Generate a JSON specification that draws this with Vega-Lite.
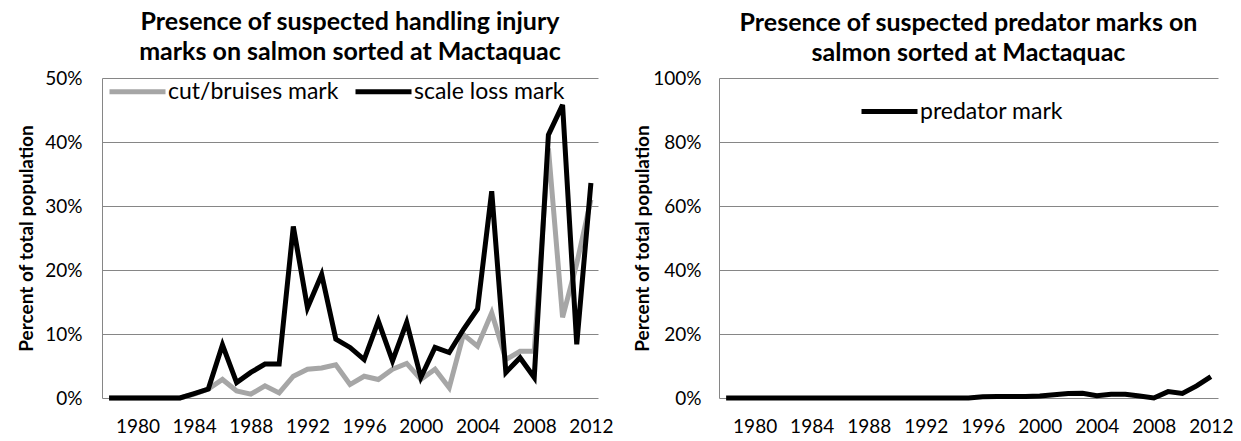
{
  "$schema": "https://vega.github.io/schema/vega-lite/v6.json",
  "background": "white",
  "padding": {"left": 17, "top": 10, "right": 5, "bottom": 5},
  "config": {
    "font": "Lato",
    "view": {"stroke": null},
    "axis": {"labelFont": "Lato", "labelFontSize": 19, "labelColor": "#000000", "ticks": false, "titleFont": "Lato", "titleFontSize": 19, "titleFontWeight": "bold", "titleColor": "#000000"},
    "legend": {"labelFont": "Lato", "labelFontSize": 23, "labelColor": "#000000", "labelLimit": 400, "symbolType": "stroke", "symbolStrokeWidth": 5, "symbolSize": 3136, "direction": "horizontal", "orient": "none", "title": null, "columnPadding": 6, "labelOffset": 0},
    "title": {"font": "Lato", "fontSize": 25, "fontWeight": "bold", "color": "#000000", "anchor": "middle", "lineHeight": 30, "offset": 3}
  },
  "datasets": {
    "handling": [
      {"year": 1978, "series": "cut/bruises mark", "value": 0},
      {"year": 1979, "series": "cut/bruises mark", "value": 0},
      {"year": 1980, "series": "cut/bruises mark", "value": 0},
      {"year": 1981, "series": "cut/bruises mark", "value": 0},
      {"year": 1982, "series": "cut/bruises mark", "value": 0},
      {"year": 1983, "series": "cut/bruises mark", "value": 0},
      {"year": 1984, "series": "cut/bruises mark", "value": 0.006},
      {"year": 1985, "series": "cut/bruises mark", "value": 0.014},
      {"year": 1986, "series": "cut/bruises mark", "value": 0.029},
      {"year": 1987, "series": "cut/bruises mark", "value": 0.011},
      {"year": 1988, "series": "cut/bruises mark", "value": 0.006},
      {"year": 1989, "series": "cut/bruises mark", "value": 0.019},
      {"year": 1990, "series": "cut/bruises mark", "value": 0.008},
      {"year": 1991, "series": "cut/bruises mark", "value": 0.034},
      {"year": 1992, "series": "cut/bruises mark", "value": 0.045},
      {"year": 1993, "series": "cut/bruises mark", "value": 0.047},
      {"year": 1994, "series": "cut/bruises mark", "value": 0.052},
      {"year": 1995, "series": "cut/bruises mark", "value": 0.021},
      {"year": 1996, "series": "cut/bruises mark", "value": 0.034},
      {"year": 1997, "series": "cut/bruises mark", "value": 0.029},
      {"year": 1998, "series": "cut/bruises mark", "value": 0.045},
      {"year": 1999, "series": "cut/bruises mark", "value": 0.054},
      {"year": 2000, "series": "cut/bruises mark", "value": 0.029},
      {"year": 2001, "series": "cut/bruises mark", "value": 0.045},
      {"year": 2002, "series": "cut/bruises mark", "value": 0.016},
      {"year": 2003, "series": "cut/bruises mark", "value": 0.099},
      {"year": 2004, "series": "cut/bruises mark", "value": 0.081},
      {"year": 2005, "series": "cut/bruises mark", "value": 0.133},
      {"year": 2006, "series": "cut/bruises mark", "value": 0.06},
      {"year": 2007, "series": "cut/bruises mark", "value": 0.073},
      {"year": 2008, "series": "cut/bruises mark", "value": 0.073},
      {"year": 2009, "series": "cut/bruises mark", "value": 0.39},
      {"year": 2010, "series": "cut/bruises mark", "value": 0.126},
      {"year": 2011, "series": "cut/bruises mark", "value": 0.21},
      {"year": 2012, "series": "cut/bruises mark", "value": 0.31},
      {"year": 1978, "series": "scale loss mark", "value": 0},
      {"year": 1979, "series": "scale loss mark", "value": 0},
      {"year": 1980, "series": "scale loss mark", "value": 0},
      {"year": 1981, "series": "scale loss mark", "value": 0},
      {"year": 1982, "series": "scale loss mark", "value": 0},
      {"year": 1983, "series": "scale loss mark", "value": 0},
      {"year": 1984, "series": "scale loss mark", "value": 0.007},
      {"year": 1985, "series": "scale loss mark", "value": 0.014},
      {"year": 1986, "series": "scale loss mark", "value": 0.083},
      {"year": 1987, "series": "scale loss mark", "value": 0.024},
      {"year": 1988, "series": "scale loss mark", "value": 0.04},
      {"year": 1989, "series": "scale loss mark", "value": 0.053},
      {"year": 1990, "series": "scale loss mark", "value": 0.053},
      {"year": 1991, "series": "scale loss mark", "value": 0.268},
      {"year": 1992, "series": "scale loss mark", "value": 0.141},
      {"year": 1993, "series": "scale loss mark", "value": 0.193},
      {"year": 1994, "series": "scale loss mark", "value": 0.092},
      {"year": 1995, "series": "scale loss mark", "value": 0.079},
      {"year": 1996, "series": "scale loss mark", "value": 0.06},
      {"year": 1997, "series": "scale loss mark", "value": 0.12},
      {"year": 1998, "series": "scale loss mark", "value": 0.058},
      {"year": 1999, "series": "scale loss mark", "value": 0.118},
      {"year": 2000, "series": "scale loss mark", "value": 0.032},
      {"year": 2001, "series": "scale loss mark", "value": 0.079},
      {"year": 2002, "series": "scale loss mark", "value": 0.071},
      {"year": 2003, "series": "scale loss mark", "value": 0.107},
      {"year": 2004, "series": "scale loss mark", "value": 0.139},
      {"year": 2005, "series": "scale loss mark", "value": 0.323},
      {"year": 2006, "series": "scale loss mark", "value": 0.04},
      {"year": 2007, "series": "scale loss mark", "value": 0.063},
      {"year": 2008, "series": "scale loss mark", "value": 0.032},
      {"year": 2009, "series": "scale loss mark", "value": 0.411},
      {"year": 2010, "series": "scale loss mark", "value": 0.458},
      {"year": 2011, "series": "scale loss mark", "value": 0.084},
      {"year": 2012, "series": "scale loss mark", "value": 0.336}
    ],
    "predator": [
      {"year": 1978, "series": "predator mark", "value": 0},
      {"year": 1979, "series": "predator mark", "value": 0},
      {"year": 1980, "series": "predator mark", "value": 0},
      {"year": 1981, "series": "predator mark", "value": 0},
      {"year": 1982, "series": "predator mark", "value": 0},
      {"year": 1983, "series": "predator mark", "value": 0},
      {"year": 1984, "series": "predator mark", "value": 0},
      {"year": 1985, "series": "predator mark", "value": 0},
      {"year": 1986, "series": "predator mark", "value": 0},
      {"year": 1987, "series": "predator mark", "value": 0},
      {"year": 1988, "series": "predator mark", "value": 0},
      {"year": 1989, "series": "predator mark", "value": 0},
      {"year": 1990, "series": "predator mark", "value": 0},
      {"year": 1991, "series": "predator mark", "value": 0},
      {"year": 1992, "series": "predator mark", "value": 0},
      {"year": 1993, "series": "predator mark", "value": 0},
      {"year": 1994, "series": "predator mark", "value": 0},
      {"year": 1995, "series": "predator mark", "value": 0},
      {"year": 1996, "series": "predator mark", "value": 0.004},
      {"year": 1997, "series": "predator mark", "value": 0.005},
      {"year": 1998, "series": "predator mark", "value": 0.005},
      {"year": 1999, "series": "predator mark", "value": 0.005},
      {"year": 2000, "series": "predator mark", "value": 0.006},
      {"year": 2001, "series": "predator mark", "value": 0.01},
      {"year": 2002, "series": "predator mark", "value": 0.014},
      {"year": 2003, "series": "predator mark", "value": 0.015},
      {"year": 2004, "series": "predator mark", "value": 0.007},
      {"year": 2005, "series": "predator mark", "value": 0.012},
      {"year": 2006, "series": "predator mark", "value": 0.012},
      {"year": 2007, "series": "predator mark", "value": 0.006},
      {"year": 2008, "series": "predator mark", "value": 0},
      {"year": 2009, "series": "predator mark", "value": 0.02},
      {"year": 2010, "series": "predator mark", "value": 0.014},
      {"year": 2011, "series": "predator mark", "value": 0.038},
      {"year": 2012, "series": "predator mark", "value": 0.067}
    ]
  },
  "spacing": 20,
  "hconcat": [
    {
      "width": 496,
      "height": 320,
      "title": {"text": ["Presence of suspected handling injury", "marks on salmon sorted at Mactaquac"], "offset": -4},
      "data": {"name": "handling"},
      "mark": {"type": "line", "strokeWidth": 5, "strokeJoin": "miter"},
      "encoding": {
        "x": {
          "field": "year", "type": "quantitative",
          "scale": {"domain": [1977.5, 2012.5], "nice": false, "zero": false},
          "axis": {"values": [1980, 1984, 1988, 1992, 1996, 2000, 2004, 2008, 2012], "format": "d", "title": null, "domain": false, "grid": false, "labelPadding": 19}
        },
        "y": {
          "field": "value", "type": "quantitative",
          "scale": {"domain": [0, 0.5], "nice": false},
          "axis": {"values": [0, 0.1, 0.2, 0.3, 0.4, 0.5], "format": ".0%", "title": "Percent of total population", "grid": true, "gridColor": "#868686", "gridOpacity": 1, "domain": true, "domainColor": "#868686", "labelPadding": 20, "titlePadding": 8}
        },
        "color": {
          "field": "series", "type": "nominal",
          "scale": {"domain": ["cut/bruises mark", "scale loss mark"], "range": ["#a6a6a6", "#000000"]},
          "legend": {"legendX": 5, "legendY": -17}
        }
      }
    },
    {
      "width": 499,
      "height": 320,
      "title": {"text": ["Presence of suspected predator marks on", "salmon sorted at Mactaquac"]},
      "data": {"name": "predator"},
      "mark": {"type": "line", "strokeWidth": 5, "strokeJoin": "miter"},
      "encoding": {
        "x": {
          "field": "year", "type": "quantitative",
          "scale": {"domain": [1977.5, 2012.5], "nice": false, "zero": false},
          "axis": {"values": [1980, 1984, 1988, 1992, 1996, 2000, 2004, 2008, 2012], "format": "d", "title": null, "domain": false, "grid": false, "labelPadding": 19}
        },
        "y": {
          "field": "value", "type": "quantitative",
          "scale": {"domain": [0, 1], "nice": false},
          "axis": {"values": [0, 0.2, 0.4, 0.6, 0.8, 1], "format": ".0%", "title": "Percent of total population", "grid": true, "gridColor": "#868686", "gridOpacity": 1, "domain": true, "domainColor": "#868686", "labelPadding": 18, "titlePadding": 0}
        },
        "color": {
          "field": "series", "type": "nominal",
          "scale": {"domain": ["predator mark"], "range": ["#000000"]},
          "legend": {"legendX": 140, "legendY": 3}
        }
      }
    }
  ],
  "resolve": {"scale": {"color": "independent"}, "legend": {"color": "independent"}}
}
